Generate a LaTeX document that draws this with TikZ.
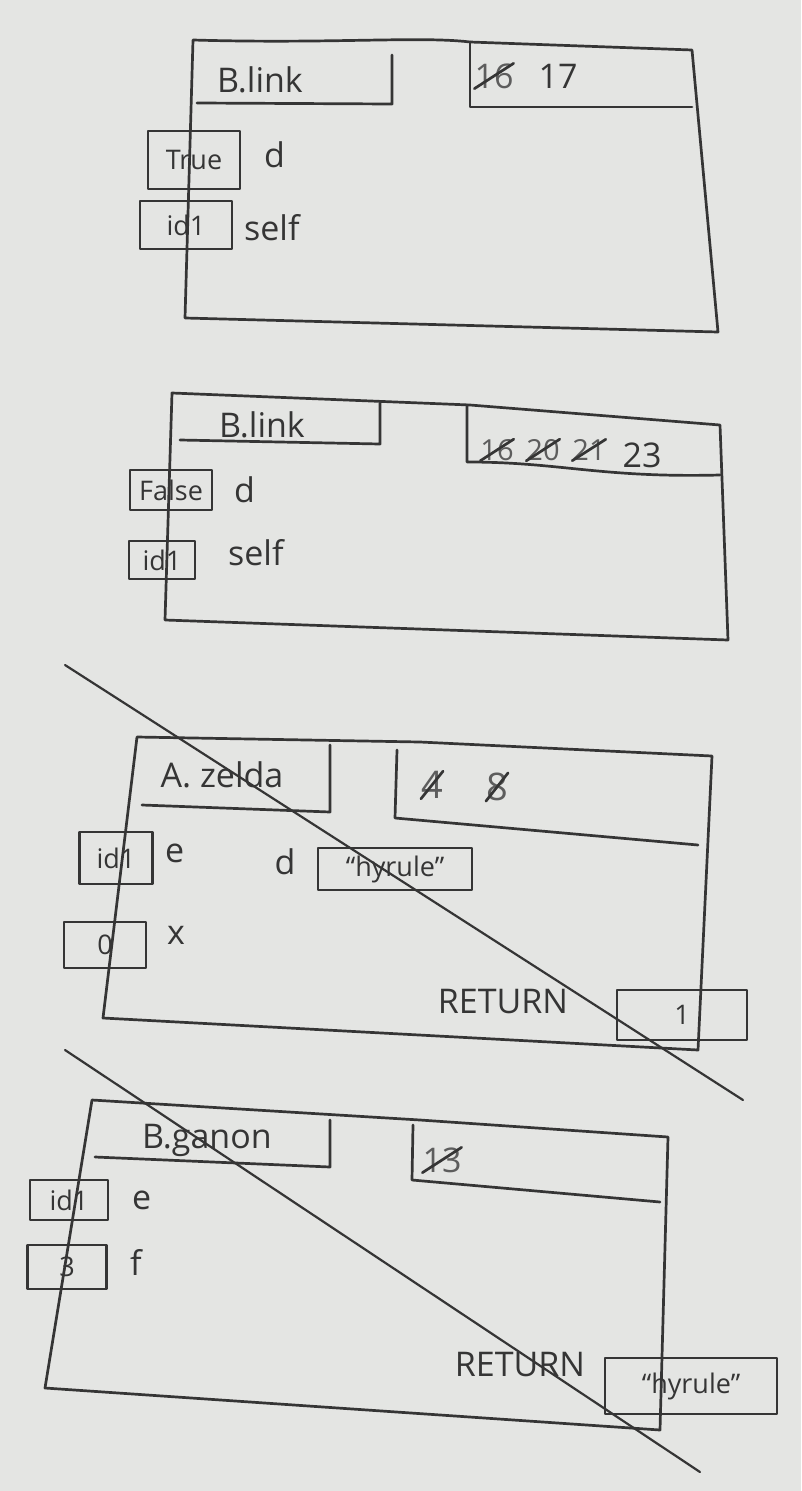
\documentclass[tikz,border=0pt]{standalone}
\usepackage{fontspec}
\setmainfont{Open Sans}
\begin{document}
\begin{tikzpicture}[x=1pt,y=-1pt,
  ink/.style={draw=inkc,line width=2.7pt,line join=round,line cap=round},
  valbox/.style={ink,rectangle,inner sep=0pt,font=\fontsize{27}{32}\selectfont,text=inkc},
  lbl/.style={inner sep=0pt,font=\fontsize{34}{40}\selectfont,text=inkc},
  old/.style={lbl,text=inkc!80}]
\definecolor{inkc}{HTML}{353535}
\definecolor{paper}{HTML}{E4E5E3}
\useasboundingbox (0,0) rectangle (801,1491);
\fill[paper] (0,0) rectangle (801,1491);

% ---------- Frame 1 : B.link ----------
\draw[ink] (193,40) .. controls (330,44) and (420,36) .. (470,42) -- (692,50) -- (718,332) -- (185,318) -- cycle;
\draw[ink] (197,103) -- (392,104) -- (392,55);
\draw[ink] (470,42) -- (470,107) -- (692,107);
\node[lbl] (f1name) at (260,80) {B.link};
\node[old] (f1o1) at (494,76) {16};
\draw[ink] (f1o1.south west) -- (f1o1.north east);
\node[lbl] (f1par) at (558,76) {17};
\node[valbox,minimum width=92pt,minimum height=58pt] (f1b1) at (194,160) {True};
\node[lbl,anchor=west] (f1d) at (264,155) {d};
\node[valbox,minimum width=92pt,minimum height=48pt] (f1b2) at (186,225) {id1};
\node[lbl,anchor=west] (f1self) at (244,228) {self};

% ---------- Frame 2 : B.link ----------
\draw[ink] (172,393) -- (470,405) -- (720,425) -- (728,640) -- (165,620) -- cycle;
\draw[ink] (180,440) -- (380,444) -- (380,403);
\draw[ink] (467,405) -- (467,462) .. controls (560,462) and (600,478) .. (720,475);
\node[old,font=\fontsize{29}{34}\selectfont] (f2o1) at (497,450) {16};
\draw[ink] (f2o1.south west) -- (f2o1.north east);
\node[old,font=\fontsize{29}{34}\selectfont] (f2o2) at (543,450) {20};
\draw[ink] (f2o2.south west) -- (f2o2.north east);
\node[old,font=\fontsize{29}{34}\selectfont] (f2o3) at (589,450) {21};
\draw[ink] (f2o3.south west) -- (f2o3.north east);
\node[lbl] (f2par) at (642,455) {23};
\node[lbl] (f2name) at (262,425) {B.link};
\node[valbox,minimum width=82pt,minimum height=40pt] (f2b1) at (171,490) {False};
\node[lbl,anchor=west] (f2d) at (234,490) {d};
\node[valbox,minimum width=66pt,minimum height=38pt] (f2b2) at (162,560) {id1};
\node[lbl,anchor=west] (f2self) at (228,553) {self};

% ---------- Frame 3 : A.zelda ----------
\draw[ink] (137,737) -- (420,742) -- (712,756) -- (698,1050) -- (103,1018) -- cycle;
\draw[ink] (142,805) -- (330,812) -- (330,745);
\draw[ink] (397,750) -- (395,818) -- (698,845);
\node[lbl] (f3name) at (222,775) {A. zelda};
\node[old,font=\fontsize{38}{44}\selectfont] (f3o1) at (432,785) {4};
\draw[ink] (f3o1.south west) -- (f3o1.north east);
\node[old,font=\fontsize{38}{44}\selectfont] (f3o2) at (497,787) {8};
\draw[ink] (f3o2.south west) -- (f3o2.north east);
\node[valbox,minimum width=73pt,minimum height=52pt] (f3b1) at (116,858) {id1};
\node[lbl,anchor=west] (f3e) at (165,853) {e};
\node[lbl] (f3d) at (285,862) {d};
\node[valbox,minimum width=154pt,minimum height=42pt] (f3b2) at (395,869) {``hyrule''};
\node[valbox,minimum width=82pt,minimum height=46pt] (f3b3) at (105,945) {0};
\node[lbl,anchor=west] (f3x) at (167,935) {x};
\node[lbl] (f3ret) at (503,1002) {RETURN};
\node[valbox,minimum width=130pt,minimum height=50pt] (f3rv) at (682,1015) {1};
\coordinate (c3a) at (65,665);
\coordinate (c3b) at (743,1100);
\draw[ink,line width=2.2pt] (c3a) -- (c3b);

% ---------- Frame 4 : B.ganon ----------
\draw[ink] (92,1100) -- (420,1120) -- (668,1137) -- (660,1430) -- (45,1388) -- cycle;
\draw[ink] (95,1157) -- (330,1167) -- (330,1120);
\draw[ink] (413,1125) -- (412,1180) -- (660,1202);
\node[lbl] (f4name) at (207,1140) {B.ganon};
\node[old] (f4o1) at (442,1160) {13};
\draw[ink] (f4o1.south west) -- (f4o1.north east);
\node[valbox,minimum width=78pt,minimum height=40pt] (f4b1) at (69,1200) {id1};
\node[lbl,anchor=west] (f4e) at (132,1200) {e};
\node[valbox,minimum width=79pt,minimum height=44pt] (f4b2) at (67,1267) {3};
\node[lbl,anchor=west] (f4f) at (130,1262) {f};
\node[lbl] (f4ret) at (520,1365) {RETURN};
\node[valbox,minimum width=172pt,minimum height=56pt] (f4rv) at (691,1386) {``hyrule''};
\coordinate (c4a) at (65,1050);
\coordinate (c4b) at (700,1472);
\draw[ink,line width=2.2pt] (c4a) -- (c4b);
\end{tikzpicture}
\end{document}
